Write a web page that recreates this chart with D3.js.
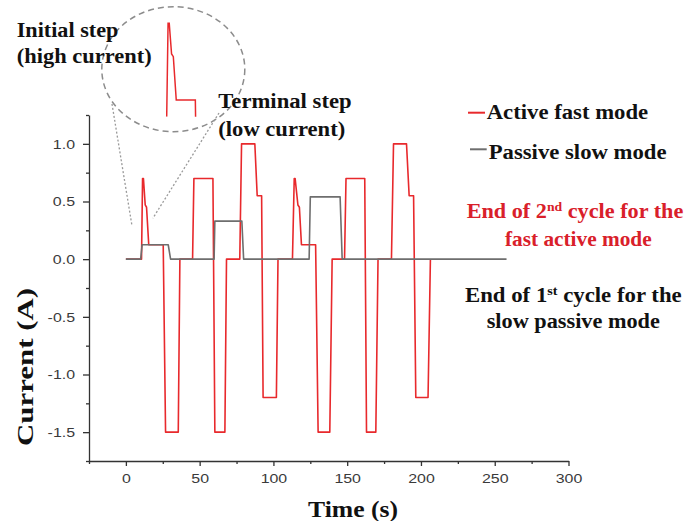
<!DOCTYPE html>
<html>
<head>
<meta charset="utf-8">
<script src="https://cdn.jsdelivr.net/npm/d3@7"></script>
<style>
  body { margin: 0; background: #fff; }
  svg { display: block; }
</style>
</head>
<body>
<svg id="chart" width="689" height="521"></svg>
<script>
// Current profile of the active fast mode (time in s, current in A)
const activeTime = [0, 10.6, 11.3, 11.9, 13.1, 14.0, 15.5, 25.3, 26.9, 35.5, 36.6, 45.2, 46.1, 59.0, 60.3, 67.1, 68.2,
  77.2, 78.4, 87.4, 89.0, 92.0, 93.0, 102.0, 103.1, 112.9, 114.1, 114.7, 116.6, 117.6, 119.0, 128.6, 130.3,
  138.2, 139.8, 148.2, 149.2, 161.9, 163.1, 169.4, 170.9, 180.0, 181.4, 190.2, 192.0, 195.0, 196.5, 204.8, 206.4];
const activeCurrent = [0, 0, 0.70, 0.70, 0.47, 0.45, 0.125, 0.125, -1.5, -1.5, 0, 0, 0.70, 0.70, -1.5, -1.5, 0,
  0, 1.0, 1.0, 0.55, 0.55, -1.2, -1.2, 0, 0, 0.70, 0.70, 0.47, 0.45, 0.125, 0.125, -1.5,
  -1.5, 0, 0, 0.70, 0.70, -1.5, -1.5, 0, 0, 1.0, 1.0, 0.55, 0.55, -1.2, -1.2, 0];

// Current profile of the passive slow mode
const passiveTime = [0, 10.0, 11.0, 28.7, 30.3, 59.8, 60.3, 78.6, 79.8, 124.2, 125.0, 145.2, 146.6, 258];
const passiveCurrent = [0, 0, 0.125, 0.125, 0, 0, 0.33, 0.33, 0, 0, 0.54, 0.54, 0, 0];

const seriesNames = ["Active fast mode", "Passive slow mode"];
const seriesColors = ["#e8292c", "#6e6e6e"];

const xTickValues = [0, 50, 100, 150, 200, 250, 300];
const xMinorTicks = [-25, 25, 75, 125, 175, 225, 275];
const yTickValues = [-1.5, -1.0, -0.5, 0.0, 0.5, 1.0];
const yMinorTicks = [-1.75, -1.25, -0.75, -0.25, 0.25, 0.75, 1.25];

// Time window of the first high-current step shown enlarged in the callout
const zoomWindow = [10.6, 26.0];
const zoomCurrent = [0, 0.70];

const svg = d3.select("#chart");
const x = d3.scaleLinear().domain([-25, 300]).range([89, 568.5]);
const y = d3.scaleLinear().domain([-1.75, 1.25]).range([461, 115]);

const serif = "'Liberation Serif','Times New Roman',serif";
const sans = "'Liberation Sans',Arial,sans-serif";

// Draws bold serif text stretched to a given width. parts: strings or {sup: "..."}
function addText(parent, parts, opt) {
  const t = parent.append("text")
    .attr("font-family", serif)
    .attr("font-weight", "bold")
    .attr("font-size", opt.size)
    .attr("fill", opt.fill || "#111")
    .attr("text-anchor", opt.anchor || "start");
  let pendingDy = 0;
  parts.forEach(p => {
    if (typeof p === "string") {
      const s = t.append("tspan").text(p);
      if (pendingDy) s.attr("dy", pendingDy);
      pendingDy = 0;
    } else {
      t.append("tspan").attr("font-size", p.size || 13).attr("dy", -7).text(p.sup);
      pendingDy = 7;
    }
  });
  const natural = t.node().getComputedTextLength();
  const sx = opt.width ? opt.width / natural : 1;
  const rot = opt.rotate ? ` rotate(${opt.rotate})` : "";
  t.attr("transform", `translate(${opt.x},${opt.y})${rot} scale(${sx},1)`);
  return t;
}

// Axes
const axisColor = "#333";
const gx = svg.append("g").attr("transform", `translate(0,${y(-1.75)})`);
gx.call(d3.axisBottom(x).tickValues(xTickValues).tickSize(5).tickPadding(7).tickSizeOuter(0)
  .tickFormat(d => String(d)));
gx.append("g").call(d3.axisBottom(x).tickValues(xMinorTicks).tickSize(3).tickSizeOuter(0).tickFormat(""))
  .call(g => g.select(".domain").remove())
  .call(g => g.selectAll("text").remove());

const gy = svg.append("g").attr("transform", `translate(${x(-25)},0)`);
gy.call(d3.axisLeft(y).tickValues(yTickValues).tickSize(6).tickPadding(8).tickSizeOuter(0)
  .tickFormat(d => d.toFixed(1)));
gy.append("g").call(d3.axisLeft(y).tickValues(yMinorTicks).tickSize(3).tickSizeOuter(0).tickFormat(""))
  .call(g => g.select(".domain").remove())
  .call(g => g.selectAll("text").remove());

[gx, gy].forEach(g => {
  g.selectAll(".domain, line").attr("stroke", axisColor).attr("stroke-width", 1.3);
  g.selectAll("text").attr("font-family", sans).attr("font-size", 13.5).attr("fill", "#3a3a3a");
});
const sxTick = 1.18;
gy.selectAll(".tick text").attr("x", -14 / sxTick).attr("transform", `scale(${sxTick},1)`);
gx.selectAll(".tick text").attr("transform", `scale(${sxTick},1)`);

// Series lines
const activeData = activeTime.map((t, i) => ({ t, v: activeCurrent[i] }));
const passiveData = passiveTime.map((t, i) => ({ t, v: passiveCurrent[i] }));
const line = d3.line().x(d => x(d.t)).y(d => y(d.v));

svg.append("path").datum(activeData).attr("d", line)
  .attr("fill", "none").attr("stroke", seriesColors[0]).attr("stroke-width", 1.6).attr("stroke-linejoin", "round");
svg.append("path").datum(passiveData).attr("d", line)
  .attr("fill", "none").attr("stroke", seriesColors[1]).attr("stroke-width", 1.6).attr("stroke-linejoin", "round");

// Callout: enlarged view of the initial high-current step
const xi = d3.scaleLinear().domain(zoomWindow).range([166.7, 196.7]);
const yi = d3.scaleLinear().domain(zoomCurrent).range([116.7, 23.3]);
const callout = svg.append("g");
callout.append("ellipse")
  .attr("cx", 173.3).attr("cy", 69.2).attr("rx", 71.5).attr("ry", 62.5)
  .attr("fill", "none").attr("stroke", "#8c8c8c").attr("stroke-width", 1.5).attr("stroke-dasharray", "6,4");
// dotted guides from the callout down to the step on the main plot
const guides = [
  { from: [112, 104], to: { t: 4.0, v: 0.30 } },
  { from: [219, 113], to: { t: 18.3, v: 0.355 } }
];
guides.forEach(g => {
  callout.append("line")
    .attr("x1", g.from[0]).attr("y1", g.from[1])
    .attr("x2", x(g.to.t)).attr("y2", y(g.to.v))
    .attr("stroke", "#9a9a9a").attr("stroke-width", 1.3).attr("stroke-dasharray", "2,2");
});
svg.append("clipPath").attr("id", "zoomClip")
  .append("rect").attr("x", 150).attr("y", yi(zoomCurrent[1]) - 5).attr("width", 60)
  .attr("height", yi(0) - yi(zoomCurrent[1]) + 5);
const zoomLine = d3.line().x(d => xi(d.t)).y(d => yi(d.v));
callout.append("path")
  .datum(activeData.filter(d => d.t >= zoomWindow[0] && d.t <= 27))
  .attr("d", zoomLine)
  .attr("clip-path", "url(#zoomClip)")
  .attr("fill", "none").attr("stroke", seriesColors[0]).attr("stroke-width", 1.5);

// Annotations
addText(svg, ["Initial step"], { x: 16.7, y: 36.7, size: 21, width: 101.7 });
addText(svg, ["(high current)"], { x: 16.7, y: 63, size: 21, width: 135 });
addText(svg, ["Terminal step"], { x: 218.3, y: 108, size: 21, width: 133.4 });
addText(svg, ["(low current)"], { x: 218.3, y: 136, size: 21, width: 127 });

// Legend
const legendRows = [
  { dashY: 112.7, baseline: 119.3, x0: 468, x1: 485, tx: 486.7, w: 161.6 },
  { dashY: 149.3, baseline: 159, x0: 470, x1: 486.7, tx: 488.7, w: 178 }
];
seriesNames.forEach((name, i) => {
  const r = legendRows[i];
  svg.append("line").attr("x1", r.x0).attr("x2", r.x1).attr("y1", r.dashY).attr("y2", r.dashY)
    .attr("stroke", seriesColors[i]).attr("stroke-width", 2);
  addText(svg, [name], { x: r.tx, y: r.baseline, size: 20, width: r.w });
});

// Cycle notes
const noteRed = "#d9202a";
addText(svg, ["End of 2", { sup: "nd" }, " cycle for the"], { x: 466.7, y: 218.3, size: 21, width: 216.6, fill: noteRed });
addText(svg, ["fast active mode"], { x: 505, y: 246, size: 21, width: 146.7, fill: noteRed });
addText(svg, ["End of 1", { sup: "st" }, " cycle for the"], { x: 465, y: 301.7, size: 21, width: 216.7 });
addText(svg, ["slow passive mode"], { x: 486.7, y: 328.3, size: 21, width: 173.3 });

// Axis titles
addText(svg, ["Time (s)"], { x: 353, y: 516.5, size: 22.5, width: 90, anchor: "middle" });
addText(svg, ["Current (A)"], { x: 33, y: 367, size: 22.5, width: 158, anchor: "middle", rotate: -90 });
</script>
</body>
</html>
